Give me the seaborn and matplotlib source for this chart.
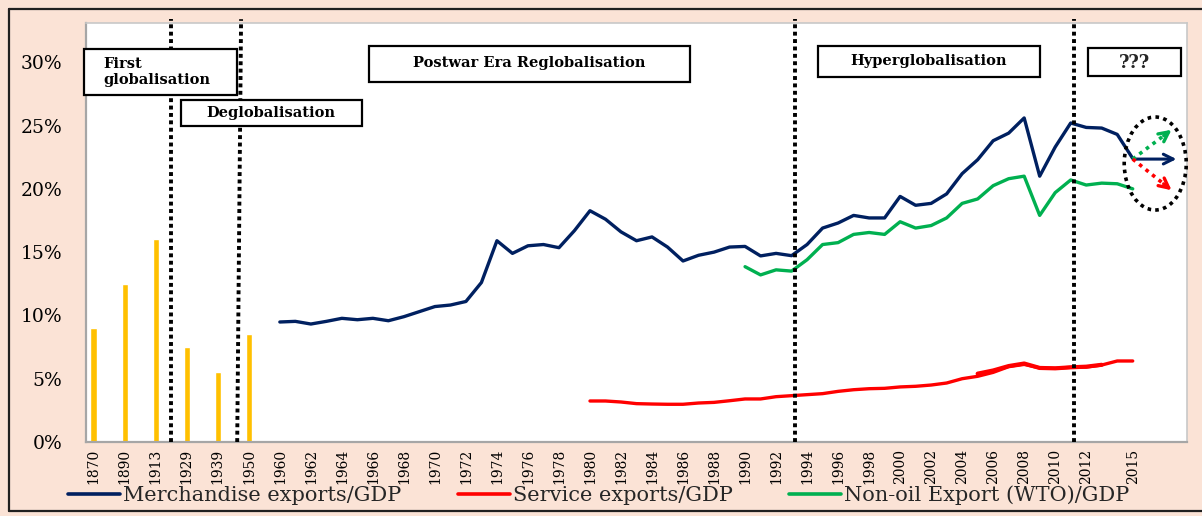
import numpy as np
import pandas as pd
import matplotlib
matplotlib.use("Agg")
import matplotlib.pyplot as plt
import seaborn as sns
from matplotlib.patches import Rectangle, Ellipse
from matplotlib.lines import Line2D

# ---------------- data ----------------
categories = ["1870", "", "1890", "", "1913", "", "1929", "", "1939", "", "1950", ""] + \
             [str(y) for y in range(1960, 2019)]

bar_years = ["1870", "1890", "1913", "1929", "1939", "1950"]
bar_values = [9.0, 12.5, 16.0, 7.5, 5.5, 8.5]

merch_years = [str(y) for y in range(1960, 2016)]
merch_values = [9.48, 9.53, 9.32, 9.53, 9.77, 9.66, 9.77, 9.58, 9.9, 10.3,
                10.7, 10.82, 11.1, 12.6, 15.9, 14.9, 15.5, 15.6, 15.35, 16.7,
                18.27, 17.6, 16.6, 15.9, 16.2, 15.4, 14.3, 14.75, 15.0, 15.4,
                15.45, 14.7, 14.9, 14.72, 15.6, 16.9, 17.3, 17.9, 17.7, 17.7,
                19.4, 18.7, 18.85, 19.6, 21.2, 22.3, 23.8, 24.4, 25.6, 21.0,
                23.3, 25.2, 24.85, 24.8, 24.3, 22.4]

service_years = [str(y) for y in range(1980, 2016)]
service_values = [3.24, 3.24, 3.16, 3.03, 3.0, 2.98, 2.98, 3.08, 3.13, 3.26,
                  3.40, 3.40, 3.58, 3.66, 3.74, 3.82, 4.0, 4.13, 4.21, 4.24,
                  4.35, 4.4, 4.5, 4.66, 5.0, 5.19, 5.5, 5.95, 6.13, 5.85,
                  5.82, 5.9, 5.92, 6.08, 6.4, 6.4]

service_alt_years = [str(y) for y in range(2005, 2014)]
service_alt_values = [5.4, 5.65, 6.0, 6.2, 5.85, 5.82, 5.9, 5.95, 6.1]

nonoil_years = [str(y) for y in range(1990, 2016)]
nonoil_values = [13.85, 13.2, 13.6, 13.5, 14.4, 15.6, 15.75, 16.4, 16.55, 16.4,
                 17.4, 16.9, 17.1, 17.7, 18.85, 19.2, 20.25, 20.8, 21.0, 17.9,
                 19.7, 20.7, 20.3, 20.45, 20.4, 20.0]

tick_labels = ["1870", "1890", "1913", "1929", "1939", "1950"] + \
              [str(y) for y in range(1960, 2013, 2)] + ["2015"]

legend_labels = ["Merchandise exports/GDP", "Service exports/GDP", "Non-oil Export (WTO)/GDP"]
era_labels = ["First\nglobalisation", "Deglobalisation", "Postwar Era Reglobalisation",
              "Hyperglobalisation", "???"]

# ---------------- style ----------------
sns.set_style("white")
plt.rcParams["font.family"] = ["DejaVu Serif"]

C_BLUE = "#002060"
C_RED = "#FF0000"
C_GREEN = "#00B050"
C_BAR = "#FFC000"
BG = "#FBE3D6"

W, H = 1202, 516
fig = plt.figure(figsize=(W / 100, H / 100), dpi=100, facecolor=BG)
ax = fig.add_axes([86 / W, 74 / H, 1101 / W, 419 / H])
ax.set_facecolor("white")

pos = {c: i for i, c in enumerate(categories) if c}

def frame(years, values):
    return pd.DataFrame({"x": [pos[y] for y in years], "v": values})

# bars
bdf = frame(bar_years, bar_values)
ax.bar(bdf["x"], bdf["v"], width=0.42, color=C_BAR, zorder=2)

# lines
sns.lineplot(data=frame(merch_years, merch_values), x="x", y="v", ax=ax,
             color=C_BLUE, lw=2.4, zorder=3, legend=False)
sns.lineplot(data=frame(nonoil_years, nonoil_values), x="x", y="v", ax=ax,
             color=C_GREEN, lw=2.4, zorder=3, legend=False)
sns.lineplot(data=frame(service_years, service_values), x="x", y="v", ax=ax,
             color=C_RED, lw=2.4, zorder=3, legend=False)
sns.lineplot(data=frame(service_alt_years, service_alt_values), x="x", y="v", ax=ax,
             color=C_RED, lw=3.0, zorder=3, legend=False)

ymax = 33.1
ax.set_xlim(-0.5, len(categories) - 0.5)
ax.set_ylim(0, ymax)

# era boundaries (dotted verticals)
dot = (0, (1.0, 0.9))
for xt, xb in [(5.0, 5.0), (9.5, 9.25), (45.25, 45.25), (63.2, 63.2)]:
    ax.plot([xb, xt], [0, ymax + 0.3], color="black", lw=2.8, ls=dot,
            clip_on=False, zorder=4)

# future scenarios
x0 = pos["2015"]
ell = Ellipse((x0 + 1.45, 22.0), 4.0, 7.35, fill=False, ec="black", lw=2.6,
              ls=(0, (1.0, 1.2)), zorder=5, clip_on=False)
ax.add_patch(ell)
ax.annotate("", xy=(x0 + 3.0, 22.35), xytext=(x0, 22.35),
            arrowprops=dict(arrowstyle="->,head_length=0.7,head_width=0.35",
                            color=C_BLUE, lw=2.2), zorder=6)
for col, yend in [(C_GREEN, 24.8), (C_RED, 19.75)]:
    xe = x0 + 2.65
    frac = 0.78
    ax.plot([x0, x0 + (xe - x0) * frac], [22.35, 22.35 + (yend - 22.35) * frac],
            color=col, lw=2.6, ls=(0, (1.0, 1.3)), zorder=6)
    ax.annotate("", xy=(xe, yend),
                xytext=(x0 + (xe - x0) * 0.7, 22.35 + (yend - 22.35) * 0.7),
                arrowprops=dict(arrowstyle="->,head_length=0.7,head_width=0.35",
                                color=col, lw=2.4), zorder=6)

# axes styling
ax.set_yticks(np.arange(0, 31, 5))
ax.set_yticklabels([f"{v}%" for v in range(0, 31, 5)], fontsize=13.5)
ax.set_xticks([pos[t] for t in tick_labels])
ax.set_xticklabels(tick_labels, rotation=90, fontsize=10)
ax.set_xticks(np.arange(-0.5, len(categories), 1), minor=True)
ax.tick_params(axis="x", which="major", length=0, pad=5, colors="black")
ax.tick_params(axis="x", which="minor", length=5, width=1, color="#A6A6A6", direction="out")
ax.tick_params(axis="y", which="major", length=5, width=1, color="#A6A6A6",
               direction="out", pad=12, colors="black")
ax.tick_params(axis="y", color="#A6A6A6")
ax.set_xlabel("")
ax.set_ylabel("")
for s in ["left", "bottom"]:
    ax.spines[s].set_color("#A6A6A6")
    ax.spines[s].set_linewidth(1.6)
for s in ["top", "right"]:
    ax.spines[s].set_color("#C8C8C8")
    ax.spines[s].set_linewidth(1.2)
ax.grid(False)

# era text boxes (pixel layout)
def box(x0p, y0p, x1p, y1p):
    r = Rectangle((x0p / W, 1 - y1p / H), (x1p - x0p) / W, (y1p - y0p) / H,
                  transform=fig.transFigure, fc="white", ec="black", lw=1.6, zorder=10)
    fig.add_artist(r)

bold = dict(fontsize=10.5, fontweight="bold", zorder=11, color="black")
box(84, 49, 237, 95)
fig.text(103 / W, 1 - 72 / H, era_labels[0], ha="left", va="center",
         linespacing=1.15, **bold)
box(181, 100, 362, 126)
fig.text(271 / W, 1 - 113 / H, era_labels[1], ha="center", va="center", **bold)
box(369, 46, 690, 82)
fig.text(529 / W, 1 - 63 / H, era_labels[2], ha="center", va="center", **bold)
box(818, 46, 1040, 77)
fig.text(929 / W, 1 - 61 / H, era_labels[3], ha="center", va="center", **bold)
box(1088, 48, 1181, 76)
fig.text(1134 / W, 1 - 63 / H, era_labels[4], ha="center", va="center",
         fontsize=13, fontweight="bold", zorder=11)

# legend
handles = [Line2D([0], [0], color=c, lw=2.6) for c in (C_BLUE, C_RED, C_GREEN)]
fig.legend(handles, legend_labels, loc="center", bbox_to_anchor=(0.498, 1 - 495 / H),
           ncol=3, frameon=False, fontsize=15, handlelength=2.5,
           handletextpad=0.15, columnspacing=2.7, borderaxespad=0, borderpad=0)

# outer frame
for xs, ys in [([9, 9], [9, 511]), ([9, W + 5], [9, 9]), ([9, W + 5], [511, 511])]:
    fig.add_artist(Line2D([x / W for x in xs], [1 - y / H for y in ys],
                          transform=fig.transFigure, color="#202020", lw=1.6))

fig.savefig("out.png", dpi=100, facecolor=BG)
